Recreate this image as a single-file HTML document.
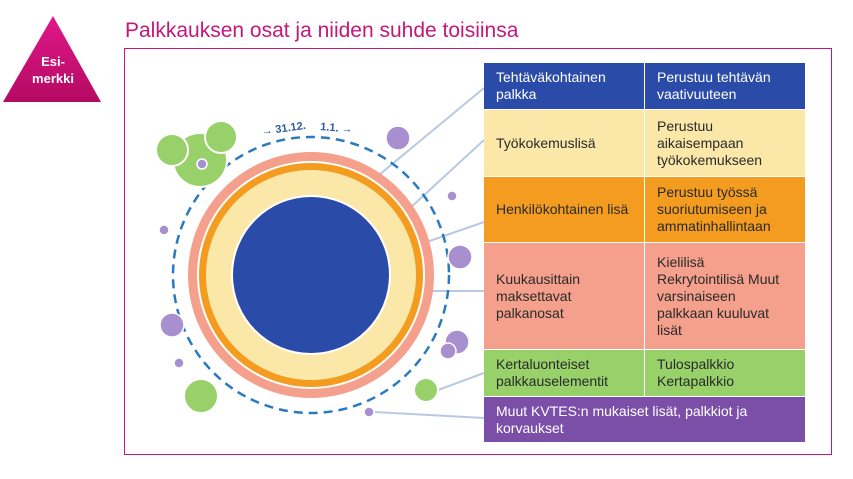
<!DOCTYPE html>
<html><head><meta charset="utf-8"><style>
body{margin:0;width:853px;height:479px;background:#fff;position:relative;overflow:hidden;font-family:"Liberation Sans",sans-serif}
.c{position:absolute;box-sizing:border-box;padding:0 12px;font-size:14px;line-height:17px;color:#2a2a2a;display:flex;align-items:center}
</style></head><body>
<div style="position:absolute;left:0;top:0">
<svg width="105" height="105"><defs><linearGradient id="g" x1="0" y1="0" x2="0" y2="1"><stop offset="0" stop-color="#e0188a"/><stop offset="1" stop-color="#b40a62"/></linearGradient></defs><polygon points="53,16 101,102 3,102" fill="url(#g)"/><text x="53" y="66" fill="#fff" font-size="13" font-weight="bold" text-anchor="middle" font-family="Liberation Sans">Esi-</text><text x="53" y="83" fill="#fff" font-size="13" font-weight="bold" text-anchor="middle" font-family="Liberation Sans">merkki</text></svg></div>
<div style="position:absolute;left:125px;top:19px;font-size:21px;color:#c5177a;">Palkkauksen osat ja niiden suhde toisiinsa</div>
<div style="position:absolute;left:124px;top:48px;width:708px;height:407px;border:1.5px solid #c5177a;box-sizing:border-box"></div>
<svg style="position:absolute;left:0;top:0" width="853" height="479">
<g stroke="#b9c9e2" stroke-width="2">
<line x1="333" y1="213" x2="484" y2="88"/><line x1="384" y1="232" x2="484" y2="140"/><line x1="418" y1="245" x2="484" y2="222"/><line x1="425" y1="291" x2="484" y2="291"/><line x1="438" y1="390" x2="484" y2="373"/><line x1="375" y1="412" x2="484" y2="418"/></g>
<circle cx="311" cy="275" r="123" fill="#f4a08c"/><circle cx="311" cy="275" r="114" fill="#fff"/><circle cx="311" cy="275" r="112" fill="#f39c1f"/><circle cx="311" cy="275" r="105" fill="#fbe8a8"/><circle cx="311" cy="275" r="80" fill="#fff"/><circle cx="311" cy="275" r="78" fill="#2b4ba8"/>
<circle cx="311" cy="275" r="138" fill="none" stroke="#2a7ac0" stroke-width="2.5" stroke-dasharray="9 6"/>
<g fill="#98d16a" stroke="#fff" stroke-width="2"><circle cx="200" cy="160" r="27"/><circle cx="172" cy="150" r="16"/><circle cx="221" cy="137" r="16"/><circle cx="201" cy="396" r="17"/><circle cx="426" cy="390" r="12"/></g>
<g fill="#a88fd0" stroke="#fff" stroke-width="1.5"><circle cx="202" cy="164" r="5"/><circle cx="398" cy="138" r="12"/><circle cx="452" cy="196" r="5"/><circle cx="164" cy="230" r="5"/><circle cx="460" cy="257" r="12"/><circle cx="172" cy="325" r="12"/><circle cx="179" cy="363" r="5"/><circle cx="457" cy="342" r="12"/><circle cx="448" cy="351" r="8"/><circle cx="369" cy="412" r="5"/></g>
<text x="262" y="135" fill="#2a5aa0" font-size="11" font-weight="bold" font-family="Liberation Sans" transform="rotate(-8 262 135)">→ 31.12.</text>
<text x="320" y="130" fill="#2a5aa0" font-size="11" font-weight="bold" font-family="Liberation Sans" transform="rotate(5 320 130)">1.1. →</text>
</svg>
<div>
<div class="c" style="left:484px;top:63px;width:160px;height:46px;background:#2b4ba8;color:#fff">Tehtäväkohtainen palkka</div>
<div class="c" style="left:645px;top:63px;width:160px;height:46px;background:#2b4ba8;color:#fff">Perustuu tehtävän vaativuuteen</div>
<div class="c" style="left:484px;top:110px;width:160px;height:66px;background:#fbe8a8">Työkokemuslisä</div>
<div class="c" style="left:645px;top:110px;width:160px;height:66px;background:#fbe8a8">Perustuu aikaisempaan työkokemukseen</div>
<div class="c" style="left:484px;top:177px;width:160px;height:65px;background:#f39c1f">Henkilökohtainen lisä</div>
<div class="c" style="left:645px;top:177px;width:160px;height:65px;background:#f39c1f">Perustuu työssä suoriutumiseen ja ammatinhallintaan</div>
<div class="c" style="left:484px;top:243px;width:160px;height:106px;background:#f4a08c">Kuukausittain maksettavat palkanosat</div>
<div class="c" style="left:645px;top:243px;width:160px;height:106px;background:#f4a08c">Kielilisä Rekrytointilisä Muut varsinaiseen palkkaan kuuluvat lisät</div>
<div class="c" style="left:484px;top:350px;width:160px;height:46px;background:#98d16a">Kertaluonteiset palkkauselementit</div>
<div class="c" style="left:645px;top:350px;width:160px;height:46px;background:#98d16a">Tulospalkkio Kertapalkkio</div>
<div class="c" style="left:484px;top:397px;width:321px;height:45px;background:#7b4fa8;color:#fff">Muut KVTES:n mukaiset lisät, palkkiot ja korvaukset</div>
</div>
</body></html>
